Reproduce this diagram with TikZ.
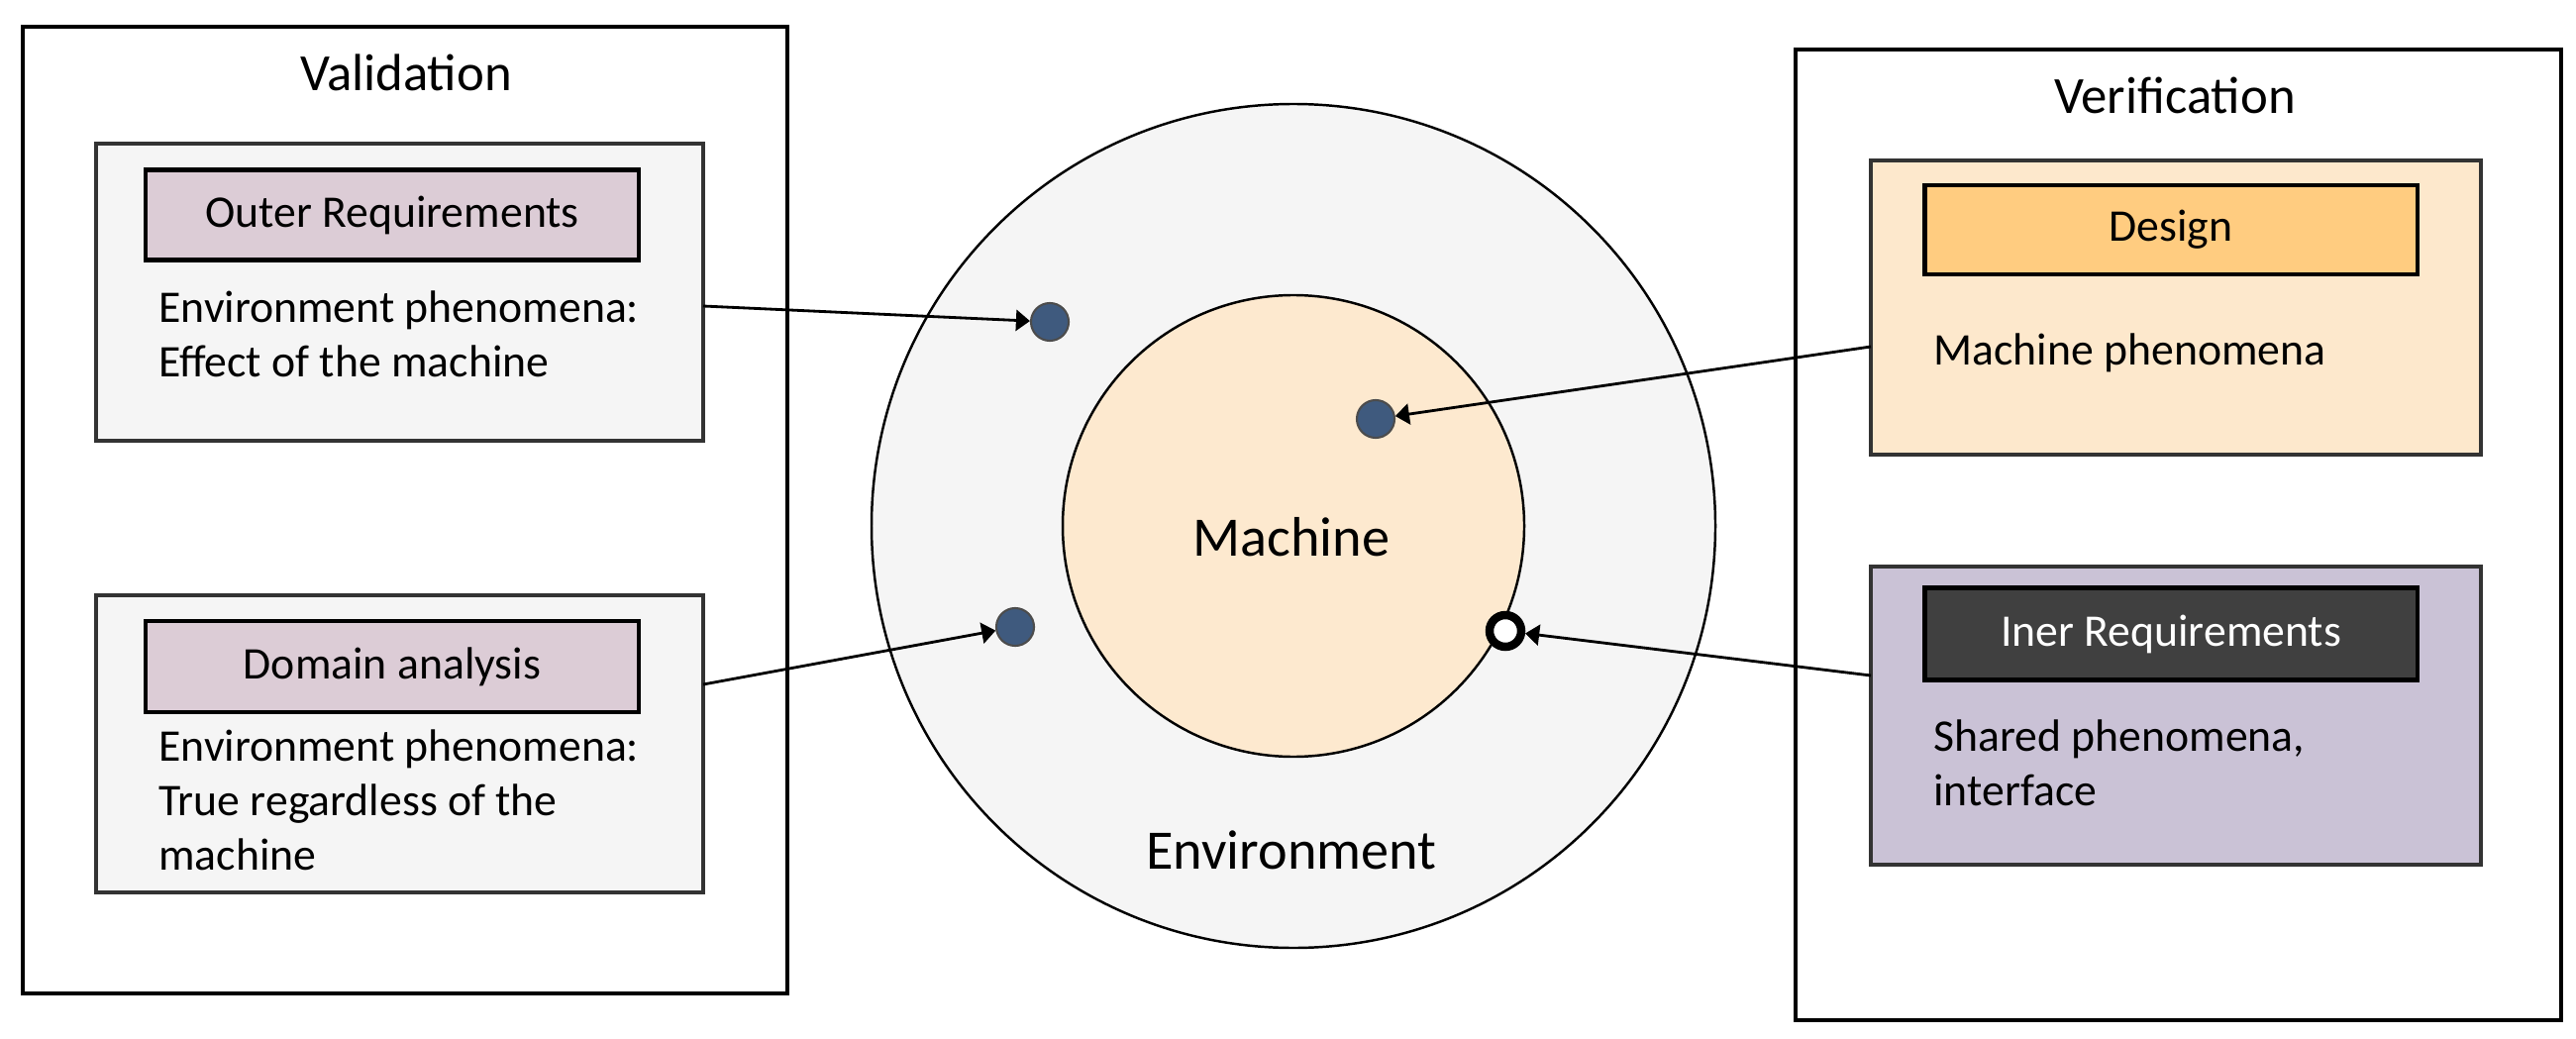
\documentclass[tikz,border=0pt]{standalone}
\usepackage{fontspec}
\setmainfont{Carlito}
\usetikzlibrary{arrows.meta}
\definecolor{grp}{HTML}{F5F5F5}
\definecolor{lbl}{HTML}{DCCCD6}
\definecolor{des}{HTML}{FDE8CC}
\definecolor{desl}{HTML}{FFCC80}
\definecolor{inr}{HTML}{CAC2D6}
\definecolor{inrl}{HTML}{404040}
\definecolor{mach}{HTML}{FDE9CF}
\definecolor{dotc}{HTML}{3F5A7E}
\tikzset{
 big/.style={draw, line width=1.1pt},
 grp/.style={draw=black!80, line width=0.9pt},
 lbl/.style={draw, line width=1.2pt, minimum width=4.97cm, font=\fontsize{13}{15.6}\selectfont},
 txt/.style={font=\fontsize{13}{15.6}\selectfont, anchor=west, align=left},
 dot/.style={circle, draw=black!70, fill=dotc, minimum size=0.38cm, inner sep=0pt, line width=0.6pt},
 conn/.style={line width=0.8pt, -{Triangle[width=6pt,length=4pt]}},
}
\begin{document}
\begin{tikzpicture}[x=0.01cm,y=-0.01cm]
\useasboundingbox (0,0) rectangle (2601,1049);
\fill[white] (0,0) rectangle (2601,1049);
% Validation
\draw[big] (23,27) rectangle (795,1003);
\node[font=\fontsize{15}{18}\selectfont] (vt) at (410,73) {Validation};
\draw[grp, fill=grp] (97,145) rectangle (710,445);
\node[lbl, fill=lbl, minimum height=0.91cm] (or) at (396,217) {Outer Requirements};
\node[txt] (ort) at (148,337) {Environment phenomena:\\Effect of the machine};
\coordinate (orA) at (710,309);
\draw[grp, fill=grp] (97,601) rectangle (710,901);
\node[lbl, fill=lbl, minimum height=0.92cm] (da) at (396,673) {Domain analysis};
\node[txt] (dat) at (148,808) {Environment phenomena:\\True regardless of the\\machine};
\coordinate (daA) at (710,691);
% Circles
\draw[line width=0.7pt, fill=grp] (1306,531) circle (426);
\draw[line width=0.7pt, fill=mach] (1306,531) circle (233);
\node[font=\fontsize{16}{19}\selectfont] (m) at (1304,542) {Machine};
\node[font=\fontsize{16}{19}\selectfont] (e) at (1304,858) {Environment};
% Verification
\draw[big] (1813,50) rectangle (2586,1030);
\node[font=\fontsize{15}{18}\selectfont] (vf) at (2196,96) {Verification};
\draw[grp, fill=des] (1889,162) rectangle (2505,459);
\node[lbl, fill=desl, minimum height=0.9cm] (d) at (2192,232) {Design};
\node[txt] (dt) at (1940,356) {Machine phenomena};
\coordinate (dA) at (1889,350);
\draw[grp, fill=inr] (1889,572) rectangle (2505,873);
\node[lbl, fill=inrl, text=white, minimum height=0.93cm] (ir) at (2192,640) {Iner Requirements};
\node[txt] (irt) at (1940,770) {Shared phenomena,\\interface};
\coordinate (iA) at (1889,682);
% dots
\node[dot] (p1) at (1060,325) {};
\node[dot] (p2) at (1389,423) {};
\node[dot] (p3) at (1025,633) {};
\node[circle, draw=black, fill=white, minimum size=0.32cm, inner sep=0pt, line width=2.4pt] (p4) at (1520,637) {};
\draw[conn] (orA) -- (p1);
\draw[conn] (daA) -- (p3);
\draw[conn] (dA) -- (p2);
\draw[conn] (iA) -- (p4);
\end{tikzpicture}
\end{document}
